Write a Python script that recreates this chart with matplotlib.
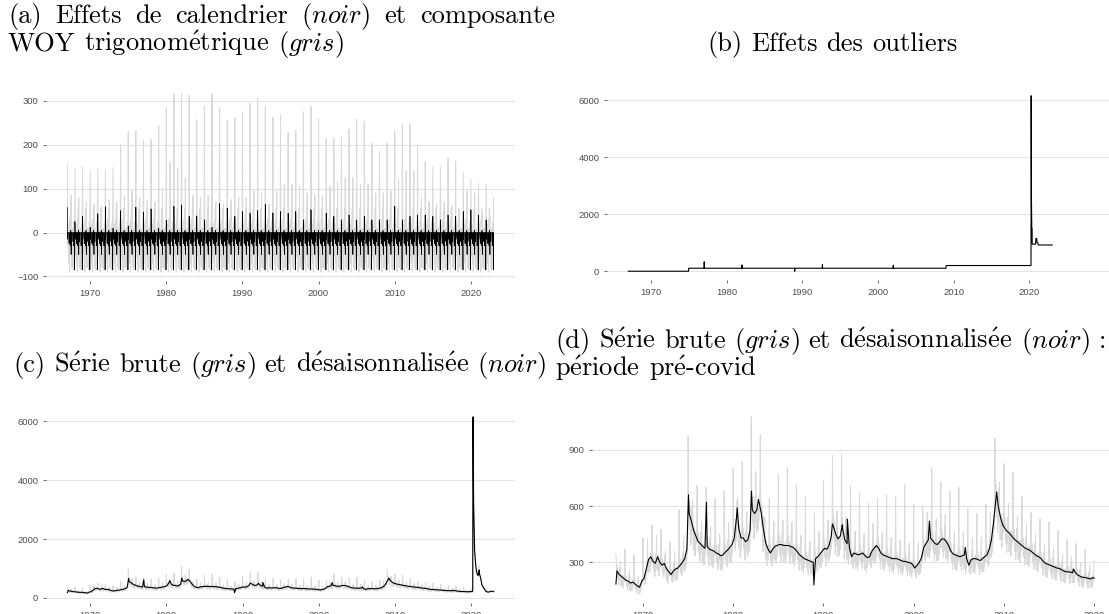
import numpy as np
import matplotlib
matplotlib.use("Agg")
import matplotlib.pyplot as plt

plt.rcParams["mathtext.fontset"] = "cm"
plt.rcParams["font.family"] = ["Liberation Sans", "DejaVu Sans"]

W, H, DPI = 1109, 614, 100
GREY = "#d9d9d9"
SERIF = ["cmr10", "DejaVu Serif"]

# ---------- (a) calendar effects (black) and WOY trig component (grey) ----------
years_a = list(range(1967, 2023))
woy_jan_peak = [155, 148, 150, 140, 145, 143, 148, 200, 230, 232, 210, 212, 242, 283,
                316, 315, 313, 257, 288, 316, 285, 256, 261, 275, 295, 306, 287, 263,
                268, 228, 233, 275, 288, 258, 215, 216, 220, 236, 258, 254, 203, 186,
                204, 232, 247, 247, 198, 162, 150, 150, 170, 162, 138, 122, 112, 110]
woy_mid_peak = [85, 80, 70, 65, 60, 75, 70, 85, 95, 80, 75, 70, 100, 160,
                145, 125, 85, 80, 85, 70, 65, 75, 80, 80, 95, 90, 65, 95,
                110, 110, 105, 90, 85, 85, 105, 115, 125, 125, 110, 110, 90, 90,
                95, 120, 140, 140, 80, 70, 65, 70, 60, 50, 95, 90, 45, 40]
# biweekly within-year shape (index 0 = January peak, index 13 = mid-year peak)
woy_shape = [0, 40, -30, 20, -55, 5, -70, -20, -90, 30, -40, 55, -10, 0,
             -50, -80, -20, -62, 10, -45, -85, -15, -60, 25, -30, 50]
cal_newyear = [57, 25, 37, 12, 43, 59, 10, 50, 15, 58, 47, 54, 10, 28,
               60, 63, 37, 38, 29, 12, 66, 56, 37, 48, 44, 50, 64, 45,
               48, 44, 48, 29, 52, 5, 44, 37, 29, 40, 29, 37, 29, 29,
               29, 60, 29, 37, 40, 40, 37, 29, 40, 37, 48, 52, 40, 29]
cal_shape = [0, -15, 0, 0, 0, 0, -25, 0, 0, 0, -30, 0, 5, -50,
             0, 0, -20, 0, 0, 0, 0, -30, 0, 0, 0, -85]
woy_end, cal_end = 80, 0

# ---------- (b) outlier effects ----------
out_t = [1967.02, 1974.97, 1974.99, 1977.03, 1977.04, 1977.06, 1982.03, 1982.04, 1982.06,
         1988.98, 1988.99, 1989.01, 1992.64, 1992.65, 1992.67, 2002.0, 2002.01, 2002.03,
         2008.98, 2009.0, 2020.2, 2020.22, 2020.26, 2020.3, 2020.34, 2020.36, 2020.8,
         2020.85, 2020.95, 2021.0, 2021.1, 2021.15, 2023.0]
out_v = [0, 0, 105, 105, 330, 105, 105, 220, 105,
         105, 0, 105, 105, 230, 105, 105, 210, 105,
         105, 200, 200, 6150, 2500, 1500, 1500, 950, 950,
         1150, 1150, 1000, 1000, 920, 920]

# ---------- (c)/(d) seasonally adjusted series (black), quarterly ----------
sa_start = 1967
sa_quarterly = [
    255, 235, 225, 215,  205, 200, 190, 195,  185, 175, 168, 200,  215, 265, 315, 330,
    305, 295, 330, 300,  285, 295, 265, 250,  235, 255, 265, 270,  285, 300, 320, 370,
    560, 520, 470, 440,  410, 400, 385, 375,  385, 370, 365, 360,  350, 345, 335, 340,
    355, 365, 380, 395,  430, 540, 480, 430,  430, 410, 420, 470,  580, 560, 580, 620,
    560, 470, 400, 370,  350, 370, 385, 390,  395, 395, 390, 390,  390, 385, 380, 370,
    355, 340, 330, 320,  315, 310, 305, 300,  320, 330, 345, 360,  375, 370, 390, 440,
    490, 450, 425, 440,  480, 420, 400, 380,  330, 350, 345, 340,  345, 350, 335, 325,
    330, 360, 375, 390,  375, 350, 340, 335,  330, 325, 320, 320,  320, 315, 310, 305,
    305, 300, 298, 290,  270, 285, 300, 325,  380, 400, 420, 430,  415, 400, 395, 410,
    425, 425, 410, 390,  360, 345, 340, 335,  330, 335, 340, 320,  285, 315, 320, 320,
    315, 310, 320, 330,  340, 370, 420, 520,  640, 600, 540, 500,  480, 465, 455, 440,
    425, 415, 405, 395,  385, 375, 370, 365,  355, 345, 335, 330,  320, 305, 295, 290,
    285, 280, 275, 270,  268, 262, 255, 250,  250, 248, 245, 250,  235, 228, 222, 220,
    218, 215, 212, 220]
# single-week peaks / dips of the SA series
sa_peak_t = [1967.01, 1975.05, 1977.04, 1980.45, 1982.03, 1982.8, 1988.95, 1991.0,
             1992.1, 1992.66, 2001.75, 2005.72, 2009.2, 2017.7]
sa_peak_v = [185, 660, 620, 590, 680, 635, 180, 505, 500, 530, 520, 380, 675, 265]

# raw (not adjusted) series (grey): January peak per year + biweekly shape factors
raw_jan_peak = [345, 370, 340, 430, 500, 475, 410, 580, 970, 710, 700, 640, 680, 800,
                840, 1075, 980, 640, 770, 805, 710, 650, 560, 735, 870, 880, 705, 675,
                615, 640, 660, 650, 715, 610, 600, 800, 725, 680, 700, 585, 560, 610,
                960, 825, 780, 650, 565, 530, 515, 470, 420, 400, 370]
raw_mid_factor = 0.35
raw_shape = [0, 0.2, 0.02, 0.12, -0.12, 0.05, -0.16, -0.02, -0.24, -0.04, -0.14, 0.16, -0.08,
             0, -0.05, -0.22, -0.03, -0.18, 0.03, -0.14, -0.24, -0.05, -0.16, 0.06, -0.08, 0.22]
raw_end = 310

# covid period 2020-2023
covid_t = [2020.0, 2020.15, 2020.2, 2020.22, 2020.24, 2020.26, 2020.28, 2020.32, 2020.38,
           2020.45, 2020.5, 2020.6, 2020.7, 2020.8, 2020.9, 2021.0, 2021.04, 2021.1, 2021.2,
           2021.3, 2021.4, 2021.5, 2021.6, 2021.7, 2021.8, 2021.9, 2022.0, 2022.2, 2022.4,
           2022.6, 2022.8, 2022.95]
covid_sa = [215, 215, 280, 3300, 6150, 5000, 4300, 3200, 2400,
            1600, 1450, 1100, 900, 820, 760, 850, 950, 800, 720,
            600, 450, 400, 350, 330, 280, 230, 215, 200, 210,
            230, 225, 215]
covid_raw = [300, 210, 250, 3000, 6100, 4500, 3800, 2700, 2000,
             1450, 1500, 1050, 850, 750, 780, 1100, 950, 850, 750,
             600, 420, 420, 330, 300, 260, 230, 290, 200, 190,
             215, 210, 260]


def box(ax_px):
    l, r, t, b = ax_px
    return [l / W, 1 - b / H, (r - l) / W, (b - t) / H]


def style(ax, yticks, xticks=range(1970, 2030, 10)):
    for s in ax.spines.values():
        s.set_visible(False)
    ax.margins(x=0.05, y=0.05)
    ax.set_yticks(yticks)
    ax.set_xticks(list(xticks))
    ax.grid(axis="y", color="#e3e3e3", lw=0.8)
    ax.set_axisbelow(True)
    ax.tick_params(length=2.5, width=0.5, color="#333333", labelsize=6.8,
                   labelcolor="#4d4d4d", pad=3)


def build_a():
    t, g, k = [], [], []
    for i, y in enumerate(years_a):
        for j in range(26):
            t.append(y + (j + 0.2) / 26)
            if j == 0:
                g.append(woy_jan_peak[i])
                k.append(cal_newyear[i])
            elif j == 13:
                g.append(woy_mid_peak[i])
                k.append(cal_shape[j])
            else:
                g.append(woy_shape[j])
                k.append(cal_shape[j])
    t.append(2023.0)
    g.append(woy_end)
    k.append(cal_end)
    return np.array(t), np.array(g), np.array(k)


def build_sa():
    n = len(sa_quarterly)
    t = list(sa_start + 0.25 * np.arange(n) + 0.125) + sa_peak_t
    v = list(sa_quarterly) + sa_peak_v
    o = np.argsort(t)
    return np.array(t)[o], np.array(v)[o]


def build_raw():
    t, v = [], []
    for i, pk in enumerate(raw_jan_peak):
        y = sa_start + i
        for j in range(26):
            q = sa_quarterly[i * 4 + (j * 4) // 26]
            t.append(y + (j + 0.2) / 26)
            if j == 0:
                v.append(pk)
            elif j == 13:
                v.append(q * (1 + raw_mid_factor))
            else:
                v.append(q * (1 + raw_shape[j]))
    t.append(2020.0)
    v.append(raw_end)
    return np.array(t), np.array(v)


fig = plt.figure(figsize=(W / DPI, H / DPI), dpi=DPI)

# (a)
ax = fig.add_axes(box((46, 515, 85, 281)))
ta, ga, ka = build_a()
ax.plot(ta, ga, color=GREY, lw=0.7)
ax.plot(ta, ka, color="black", lw=0.5)
style(ax, [-100, 0, 100, 200, 300])

# (b)
ax = fig.add_axes(box((607, 1109, 87, 280)))
ax.plot(out_t, out_v, color="black", lw=0.8)
style(ax, [0, 2000, 4000, 6000])
ax.set_xlim(1964.2, 2030.5)

# (c)
ts, vs = build_sa()
tr, vr = build_raw()
ax = fig.add_axes(box((46, 515, 408, 603)))
ax.plot(np.r_[tr, covid_t[1:]], np.r_[vr, covid_raw[1:]], color=GREY, lw=0.7)
ax.plot(np.r_[ts, covid_t], np.r_[vs, covid_sa], color="black", lw=0.8)
style(ax, [0, 2000, 4000, 6000])

# (d)
ax = fig.add_axes(box((592, 1118, 408, 603)))
ax.plot(tr, vr, color=GREY, lw=0.7)
ax.plot(np.r_[ts, 2020.0], np.r_[vs, covid_sa[0]], color="black", lw=0.8)
style(ax, [300, 600, 900])

# captions (LaTeX-like)
renderer = fig.canvas.get_renderer()
FS = 19.0


def caption(words, x0, x1, base_y, justify=False, center=False):
    objs = [fig.text(0, 0, w, fontsize=FS, family=SERIF, va="baseline", ha="left")
            for w in words]
    wid = [o.get_window_extent(renderer).width for o in objs]
    gap = FS * DPI / 72 * 0.333
    if justify and len(words) > 1:
        gap = (x1 - x0 - sum(wid)) / (len(words) - 1)
    total = sum(wid) + gap * (len(words) - 1)
    x = (x0 + x1 - total) / 2 if center else x0
    for o, w in zip(objs, wid):
        o.set_position((x / W, 1 - base_y / H))
        x += w + gap


caption(["(a)", "Effets", "de", "calendrier", r"($\mathit{noir}$)", "et", "composante"],
        8, 555, 23, justify=True)
caption(["WOY", r"trigonom$\acute{\mathrm{e}}$trique", r"($\mathit{gris}$)"], 8, 555, 51)
caption(["(b)", "Effets", "des", "outliers"], 555, 1109, 51, center=True)
caption(["(c)", r"S$\acute{\mathrm{e}}$rie", "brute", r"($\mathit{gris}$)", "et",
         r"d$\acute{\mathrm{e}}$saisonnalis$\acute{\mathrm{e}}$e", r"($\mathit{noir}$)"],
        0, 560, 372, center=True)
caption(["(d)", r"S$\acute{\mathrm{e}}$rie", "brute", r"($\mathit{gris}$)", "et",
         r"d$\acute{\mathrm{e}}$saisonnalis$\acute{\mathrm{e}}$e", r"($\mathit{noir}$)", ":"],
        555, 1106, 348, justify=True)
caption([r"p$\acute{\mathrm{e}}$riode", r"pr$\acute{\mathrm{e}}$-covid"], 555, 1109, 376)

fig.savefig("out.png", dpi=DPI)
